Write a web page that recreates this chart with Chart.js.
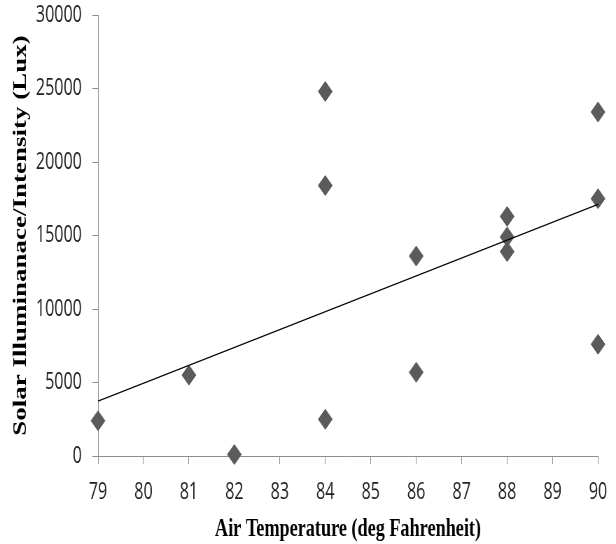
<!DOCTYPE html>
<html>
<head>
<meta charset="utf-8">
<script src="https://cdn.jsdelivr.net/npm/chart.js@4/dist/chart.umd.min.js"></script>
<style>
  html, body { margin: 0; padding: 0; background: #fff; overflow: hidden; }
  /* the reference looks horizontally squeezed, so draw wide and squeeze */
  #wrap { width: 880px; height: 544px; transform: scaleX(0.7); transform-origin: 0 0; }
</style>
</head>
<body>
<div id="wrap"><canvas id="myChart" width="880" height="544"></canvas></div>
<script>
const tempX = [79, 81, 82, 84, 84, 84, 86, 86, 88, 88, 88, 90, 90, 90];
const lux = [2400, 5500, 100, 24800, 18400, 2500, 13600, 5700, 16300, 14900, 13900, 23400, 17500, 7600];
const trendX = [79, 90];
const trendY = [3730, 17110];
const xTitle = "Air Temperature (deg Fahrenheit)";
const yTitle = "Solar Illuminanace/Intensity (Lux)";

const ctx = document.getElementById("myChart").getContext("2d");

let points = [];
for (let i = 0; i < tempX.length; i++) {
  points.push({ x: tempX[i], y: lux[i] });
}
let trend = [];
for (let i = 0; i < trendX.length; i++) {
  trend.push({ x: trendX[i], y: trendY[i] });
}

const axisGray = "#8c8c8c";
const tickFont = { family: "'Open Sans'", size: 23 };
const titleFont = { family: "'Liberation Serif'", weight: "bold" };

// chart.js adds label overhang to the layout; the reference has none
const noPad = (scale) => {
  scale.paddingTop = 0;
  scale.paddingBottom = 0;
  scale.paddingLeft = 0;
  scale.paddingRight = 0;
};

const myChart = new Chart(ctx, {
  type: "scatter",
  data: {
    datasets: [
      {
        type: "line",
        label: "Trend",
        data: trend,
        borderColor: "#000",
        borderWidth: 1.3,
        pointRadius: 0,
        fill: false,
        clip: false,
        order: 0,
      },
      {
        label: "Lux",
        data: points,
        pointStyle: "rectRot",
        pointRadius: 10,
        backgroundColor: "#5b5b5b",
        borderColor: "#5b5b5b",
        borderWidth: 1,
        clip: false,
        order: 1,
      },
    ],
  },
  options: {
    responsive: false,
    animation: false,
    devicePixelRatio: 1,
    layout: { padding: { top: 15, right: 25.7, left: 0, bottom: 0 } },
    plugins: {
      legend: { display: false },
      tooltip: { enabled: false },
    },
    scales: {
      x: {
        type: "linear",
        min: 79,
        max: 90,
        afterFit: (scale) => { scale.height = 88; noPad(scale); },
        grid: {
          display: true,
          drawOnChartArea: false,
          drawTicks: true,
          tickLength: 8,
          color: axisGray,
        },
        border: { color: axisGray, width: 1 },
        ticks: { stepSize: 1, padding: 15, color: "#222", font: tickFont, maxRotation: 0 },
        title: {
          display: true,
          text: xTitle,
          color: "#000",
          font: { ...titleFont, size: 26, lineHeight: 1.1 },
          padding: { top: 0, bottom: 0 },
        },
      },
      y: {
        min: 0,
        max: 30000,
        afterFit: (scale) => { scale.width = 140; noPad(scale); },
        grid: {
          display: true,
          drawOnChartArea: false,
          drawTicks: true,
          tickLength: 8,
          color: axisGray,
        },
        border: { color: axisGray, width: 1 },
        ticks: {
          stepSize: 5000,
          padding: 15,
          color: "#222",
          font: tickFont,
          callback: (v) => String(v),
        },
        title: {
          display: true,
          text: yTitle,
          color: "#000",
          font: { ...titleFont, size: 27, lineHeight: 1.2 },
          padding: { top: 14, bottom: 0 },
        },
      },
    },
  },
});
</script>
</body>
</html>
